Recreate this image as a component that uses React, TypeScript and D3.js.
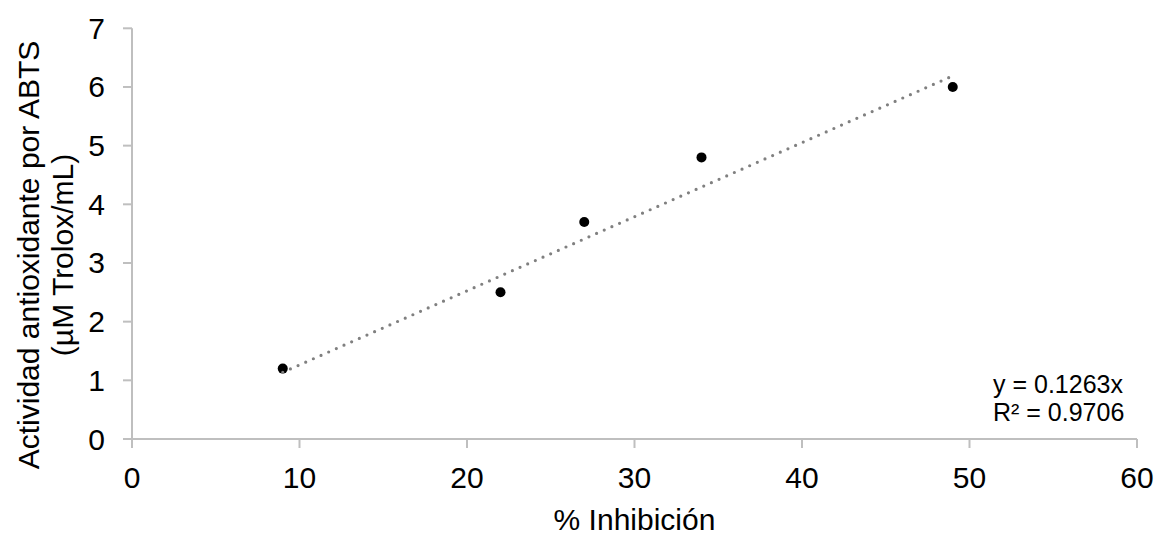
import React from "react";
import * as d3 from "d3";

// Sample data: % inhibition vs antioxidant activity (ABTS)
const inhibition = [9, 22, 27, 34, 49];
const activity = [1.2, 2.5, 3.7, 4.8, 6.0];

// Linear fit through the origin
const slope = 0.1263;
const rSquared = 0.9706;

const xTicks = [0, 10, 20, 30, 40, 50, 60];
const yTicks = [0, 1, 2, 3, 4, 5, 6, 7];

const xTitle = "% Inhibición";
const yTitleLines = ["Actividad antioxidante por ABTS", "(µM Trolox/mL)"];

const WIDTH = 1158;
const HEIGHT = 535;
const FONT = "'Liberation Sans', Arial, sans-serif";
const AXIS_COLOR = "#bfbfbf";

export default function App() {
  const x = d3.scaleLinear().domain([0, 60]).range([132, 1137]);
  const y = d3.scaleLinear().domain([0, 7]).range([439, 28.3]);

  const [xMin, xMax] = d3.extent(inhibition) as [number, number];
  const trend = d3
    .line<number>()
    .x((d) => x(d))
    .y((d) => y(slope * d));
  const trendPath = trend([xMin, xMax]) || "";

  const x0 = x(0);
  const y0 = y(0);
  const yMid = 255;

  return (
    <svg
      width={WIDTH}
      height={HEIGHT}
      style={{ position: "absolute", left: 0, top: 0, background: "#fff" }}
      fontFamily={FONT}
    >
      <rect width={WIDTH} height={HEIGHT} fill="#fff" />

      {/* axes */}
      <line x1={x0} x2={x(60)} y1={y0} y2={y0} stroke={AXIS_COLOR} strokeWidth={2} />
      <line x1={x0} x2={x0} y1={y(7)} y2={y0} stroke={AXIS_COLOR} strokeWidth={2} />

      {xTicks.map((t) => (
        <g key={"xt" + t}>
          <line x1={x(t)} x2={x(t)} y1={y0} y2={y0 + 9} stroke={AXIS_COLOR} strokeWidth={2} />
          <text x={x(t)} y={487.5} textAnchor="middle" fontSize={30} fill="#000">
            {t}
          </text>
        </g>
      ))}

      {yTicks.map((t) => (
        <g key={"yt" + t}>
          <line x1={x0 - 9} x2={x0} y1={y(t)} y2={y(t)} stroke={AXIS_COLOR} strokeWidth={2} />
          <text x={105} y={y(t) + 10.5} textAnchor="end" fontSize={30} fill="#000">
            {t}
          </text>
        </g>
      ))}

      {/* axis titles */}
      <text x={x(30)} y={530} textAnchor="middle" fontSize={30} fill="#000">
        {xTitle}
      </text>
      {yTitleLines.map((line, i) => (
        <text
          key={"yl" + i}
          transform={`translate(${39 + i * 34},${yMid}) rotate(-90)`}
          textAnchor="middle"
          fontSize={30}
          fill="#000"
        >
          {line}
        </text>
      ))}

      {/* data points */}
      {inhibition.map((v, i) => (
        <circle key={"p" + i} cx={x(v)} cy={y(activity[i])} r={5} fill="#000" />
      ))}

      {/* dotted trendline */}
      <path
        d={trendPath}
        fill="none"
        stroke="#808080"
        strokeWidth={3.2}
        strokeLinecap="round"
        strokeDasharray="0 8.37"
      />

      {/* trendline equation */}
      <text x={993} y={392.5} fontSize={25} fill="#000">
        {`y = ${slope}x`}
      </text>
      <text x={993} y={420.5} fontSize={25} fill="#000">
        {`R² = ${rSquared}`}
      </text>
    </svg>
  );
}
